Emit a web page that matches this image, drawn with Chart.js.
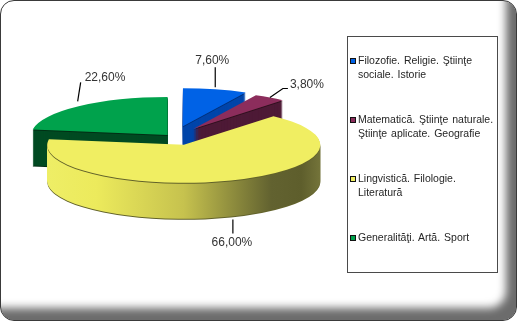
<!DOCTYPE html>
<html>
<head>
<meta charset="utf-8">
<script src="https://cdn.jsdelivr.net/npm/chart.js@4/dist/chart.umd.min.js"></script>
<style>
  body { margin: 0; background: #fff; }
  #frame {
    position: absolute; left: 0; top: 0; width: 515px; height: 319px;
    border: 1px solid #3a3a3a; border-radius: 14px; background: #fff;
    box-shadow: inset -14px -16px 9px -4px #6c6c6c;
    overflow: hidden;
  }
  #wrap { position: absolute; left: 0; top: 0; width: 517px; height: 321px; }
  #legend {
    position: absolute; left: 347px; top: 36px; width: 149px; height: 235px;
    border: 1px solid #4a4a4a; background: #fff;
    font-family: "Liberation Sans", Arial, sans-serif; font-size: 10.5px; color: #262626;
  }
  .item { position: absolute; left: 2px; width: 146px; line-height: 13.5px; padding-left: 8px; word-spacing: 1px; }
  .item i { position: absolute; left: 0; top: 4px; width: 4px; height: 4px; border: 1px solid #111; }
</style>
</head>
<body>
<div id="frame"></div>
<div id="wrap"><canvas id="myChart"></canvas></div>
<div id="legend"></div>
<script>
const categories = [
  'Filozofie. Religie. Ştiinţe sociale. Istorie',
  'Matematică. Ştiinţe naturale. Ştiinţe aplicate. Geografie',
  'Lingvistică. Filologie. Literatură',
  'Generalităţi. Artă. Sport'
];
const values = [7.6, 3.8, 66.0, 22.6];
const valueLabels = ['7,60%', '3,80%', '66,00%', '22,60%'];

// colours: top face, side face, edge line
const topColors = ['#0062e6', '#8c2d5c', '#f0ee62', '#00a24c'];
const sideColors = ['#0045aa', '#4e1a36', null, '#004a22'];
const edgeColors = ['#00307a', '#30101e', '#62622a', '#002e14'];

// fake 3d geometry
const CX = 173.5, CY = 137, RX = 136.5, RY = 38, DEPTH = 36;
const explode = [40, 35, 30, 9];
const drawOrder = [3, 0, 1, 2];

// leader lines and label spots, relative to slice edge
const leaders = [[[0, -2], [0, -22]], [[0, 0], [13, -9], [18, -9]], [[2, 3], [2, 17]], [[-1, -5], [2, -24]]];
const labelSpots = [[-3, -29, 'center'], [20, -13, 'left'], [1, 26, 'center'], [6, -29, 'left']];

const shift = (el, i) => {
  const mid = (el.startAngle + el.endAngle) / 2;
  return [explode[i] * Math.cos(mid), explode[i] * (RY / RX) * Math.sin(mid)];
};

const pie3d = {
  id: 'pie3d',
  beforeDatasetsDraw(chart) {
    const ctx = chart.ctx;
    const arcs = chart.getDatasetMeta(0).data;
    const c = arcs[0];
    const sx = RX / c.outerRadius, sy = RY / c.outerRadius;
    const place = (dx, dy) => ctx.setTransform(sx, 0, 0, sy, CX + dx - c.x * sx, CY + dy - c.y * sy);
    const paint = (el, fill, dx, dy) => {
      const saved = el.options;
      el.options = Object.assign({}, saved, {backgroundColor: fill, borderColor: fill, borderWidth: 0, offset: 0});
      place(dx, dy);
      el.draw(ctx);
      el.options = saved;
    };
    ctx.save();
    drawOrder.forEach(i => {
      const el = arcs[i];
      const [dx, dy] = shift(el, i);
      let side = sideColors[i];
      if (!side) {
        const toPie = X => c.x + (X - CX - dx) / sx;
        side = ctx.createLinearGradient(toPie(CX + dx - RX), 0, toPie(CX + dx + RX), 0);
        side.addColorStop(0, '#eeee66');
        side.addColorStop(0.18, '#ecea5c');
        side.addColorStop(0.5, '#c6c24e');
        side.addColorStop(0.82, '#626230');
        side.addColorStop(0.93, '#5e5e2c');
        side.addColorStop(1, '#74743a');
      }
      paint(el, edgeColors[i], dx, dy + DEPTH + 1);
      for (let d = DEPTH; d >= 2; d--) paint(el, side, dx, dy + d);
      paint(el, edgeColors[i], dx, dy + 1);
    });
    drawOrder.forEach(i => {
      const el = arcs[i];
      const [dx, dy] = shift(el, i);
      paint(el, topColors[i], dx, dy);
    });
    ctx.restore();
    return false;
  },
  afterDraw(chart) {
    const ctx = chart.ctx;
    const arcs = chart.getDatasetMeta(0).data;
    ctx.save();
    ctx.setTransform(1, 0, 0, 1, 0, 0);
    ctx.strokeStyle = '#000';
    ctx.lineWidth = 1.2;
    ctx.fillStyle = '#333';
    ctx.font = '12px "Liberation Sans", Arial, sans-serif';
    ctx.textBaseline = 'middle';
    arcs.forEach((el, i) => {
      const [dx, dy] = shift(el, i);
      const mid = (el.startAngle + el.endAngle) / 2;
      const ax = CX + dx + RX * Math.cos(mid);
      const ay = CY + dy + RY * Math.sin(mid) + (Math.sin(mid) > 0 ? DEPTH : 0);
      ctx.beginPath();
      leaders[i].forEach((p, k) => k ? ctx.lineTo(ax + p[0], ay + p[1]) : ctx.moveTo(ax + p[0], ay + p[1]));
      ctx.stroke();
      const s = labelSpots[i];
      ctx.textAlign = s[2];
      ctx.fillText(valueLabels[i], ax + s[0], ay + s[1]);
    });
    ctx.restore();
  }
};

const data = {
  labels: categories,
  datasets: [{
    data: values,
    backgroundColor: topColors,
    borderWidth: 0
  }]
};

const myChart = new Chart(document.getElementById('myChart'), {
  type: 'pie',
  data: data,
  options: {
    responsive: true,
    maintainAspectRatio: false,
    animation: false,
    events: [],
    plugins: { legend: { display: false }, tooltip: { enabled: false } }
  },
  plugins: [pie3d]
});

// legend box
const legendBox = document.getElementById('legend');
categories.forEach((name, i) => {
  const item = document.createElement('div');
  item.className = 'item';
  item.style.top = (17 + i * 59) + 'px';
  item.innerHTML = '<i style="background:' + topColors[i] + '"></i>' + name;
  legendBox.appendChild(item);
});
</script>
</body>
</html>
